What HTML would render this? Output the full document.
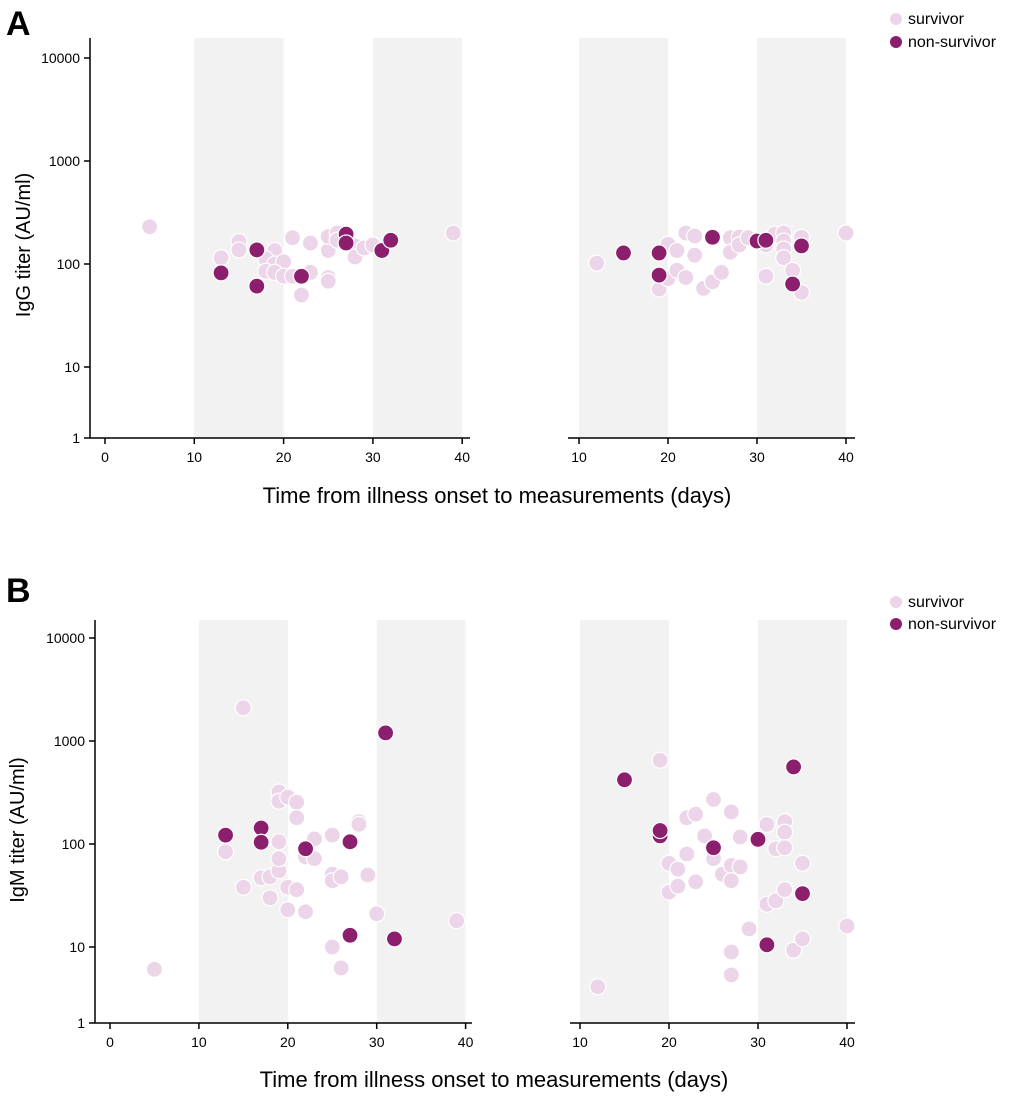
<!DOCTYPE html>
<html><head><meta charset="utf-8"><style>
body{margin:0;background:#fff}
svg{display:block;font-family:"Liberation Sans",Arial,sans-serif}
</style></head><body>
<svg id="fig" width="1020" height="1097" viewBox="0 0 1020 1097" xmlns="http://www.w3.org/2000/svg">
<text x="6" y="35" font-size="34" font-weight="bold">A</text>
<text x="6" y="602" font-size="34" font-weight="bold">B</text>
<text transform="translate(30,245) rotate(-90)" text-anchor="middle" font-size="20">IgG titer (AU/ml)</text>
<text transform="translate(24,830) rotate(-90)" text-anchor="middle" font-size="20">IgM titer (AU/ml)</text>
<text x="497" y="503" text-anchor="middle" font-size="22">Time from illness onset to measurements (days)</text>
<text x="494" y="1087" text-anchor="middle" font-size="22">Time from illness onset to measurements (days)</text>
<g>
<circle cx="896" cy="19" r="6" fill="#ecd5e8"/><text x="908" y="24" font-size="16">survivor</text>
<circle cx="896" cy="42" r="6" fill="#8b1f6e"/><text x="908" y="47" font-size="16">non-survivor</text>
</g>
<g>
<circle cx="896" cy="602" r="6" fill="#ecd5e8"/><text x="908" y="607" font-size="16">survivor</text>
<circle cx="896" cy="624" r="6" fill="#8b1f6e"/><text x="908" y="629" font-size="16">non-survivor</text>
</g>
</svg>
<script>
const yTicks=[1,10,100,1000,10000];
const aLeftSurvDays=[5,15,15,13,19,18,19,20,18,19,20,21,23,22,21,23,25,25,25,25,26,26,28,28,29,30,39];
const aLeftSurvVals=[230,165,137,115,135,112,100,105,85,83,76,76,83,50,180,160,74,68,135,185,200,170,150,117,143,153,200];
const aLeftNonDays=[17,13,17,22,27,27,31,32];
const aLeftNonVals=[137,82,61,76,195,160,135,170];
const aRightSurvDays=[12,19,20,20,21,21,22,22,23,23,24,25,26,27,27,28,28,29,31,31,32,33,33,33,33,34,35,35,40];
const aRightSurvVals=[102,57,155,72,135,87,74,200,187,122,58,67,83,180,130,183,153,180,76,153,195,200,167,140,115,87,182,53,200];
const aRightNonDays=[15,19,19,25,30,31,34,35];
const aRightNonVals=[128,128,78,182,167,170,64,150];
const bLeftSurvDays=[5,15,13,15,17,18,18,19,19,19,19,19,20,20,20,21,21,21,22,22,23,23,25,25,25,25,26,26,28,28,29,30,39];
const bLeftSurvVals=[5.1,2100,84,38,47,30,48,55,72,105,320,260,285,38,23,255,180,36,75,22,112,72,122,51,44,10,48,5.3,165,155,50,21,18];
const bLeftNonDays=[13,17,17,22,27,27,31,32];
const bLeftNonVals=[122,143,104,90,105,13,1200,12];
const bRightSurvDays=[12,19,20,20,21,21,22,22,23,23,24,25,25,26,27,27,27,27,27,28,28,29,31,31,32,32,33,33,33,33,34,35,35,40];
const bRightSurvVals=[3,650,65,34,57,39,80,180,195,43,120,270,72,51,205,62,44,8.6,4.3,117,60,15,155,26,90,28,165,130,92,36,9.1,65,12,16];
const bRightNonDays=[15,19,19,25,30,31,34,35];
const bRightNonVals=[420,120,135,92,111,10.5,560,33];

const NS='http://www.w3.org/2000/svg';
const svg=document.getElementById('fig');
function mk(tag,attrs,parent){const e=document.createElementNS(NS,tag);for(const k in attrs)e.setAttribute(k,attrs[k]);(parent||svg).appendChild(e);return e;}

function panel(cfg){
  const g=mk('g',{});
  
  
  const xs=d=>cfg.x0+(d-cfg.d0)*cfg.pxd;
  const ys=v=>{const l=Math.log10(v);return l>=1?cfg.y10-(l-1)*cfg.dec:cfg.y10+(1-l)*(cfg.y1-cfg.y10);};
  // bands
  cfg.bands.forEach(b=>{
    const r=mk('rect',{x:xs(b[0]),y:cfg.top,width:xs(b[1])-xs(b[0]),height:cfg.y1-cfg.top,fill:'#f2f2f2'},g);
    
    
  });
  // x axis
  const xa=mk('line',{x1:cfg.ax0,x2:cfg.ax1,y1:cfg.y1,y2:cfg.y1,stroke:'#000','stroke-width':1.5},g);
  
  
  cfg.xticks.forEach(t=>{
    mk('line',{x1:xs(t),x2:xs(t),y1:cfg.y1,y2:cfg.y1+6,stroke:'#000','stroke-width':1.5},g);
    const tl=mk('text',{x:xs(t),y:cfg.y1+24,'text-anchor':'middle','font-size':14},g);
    tl.textContent=t;
    
    
  });
  if(cfg.yaxis){
    const ya=mk('line',{x1:cfg.ax0,x2:cfg.ax0,y1:cfg.top,y2:cfg.y1,stroke:'#000','stroke-width':1.5},g);
    
    
    yTicks.forEach(t=>{
      mk('line',{x1:cfg.ax0-6,x2:cfg.ax0,y1:ys(t),y2:ys(t),stroke:'#000','stroke-width':1.5},g);
      const tl=mk('text',{x:cfg.ax0-10,y:ys(t)+5,'text-anchor':'end','font-size':14},g);
      tl.textContent=t;
      
      
    });
  }
  const draw=(days,vals,color,nm)=>{
    days.forEach((d,i)=>{
      const c=mk('circle',{cx:xs(d),cy:ys(vals[i]),r:8,fill:color,stroke:'#fff','stroke-width':1.2},g);
      
      
    });
  };
  draw(cfg.sd,cfg.sv,'#ecd5e8','survivor-point');
  draw(cfg.nd,cfg.nv,'#8b1f6e','non-survivor-point');
}
panel({name:'panel-a-left',x0:105,d0:0,pxd:8.93,y10:367,dec:103,y1:438,top:38,ax0:90,ax1:470,yaxis:true,
  xticks:[0,10,20,30,40],bands:[[10,20],[30,40]],sd:aLeftSurvDays,sv:aLeftSurvVals,nd:aLeftNonDays,nv:aLeftNonVals});
panel({name:'panel-a-right',x0:579,d0:10,pxd:8.9,y10:367,dec:103,y1:438,top:38,ax0:568,ax1:855,yaxis:false,
  xticks:[10,20,30,40],bands:[[10,20],[30,40]],sd:aRightSurvDays,sv:aRightSurvVals,nd:aRightNonDays,nv:aRightNonVals});
panel({name:'panel-b-left',x0:110,d0:0,pxd:8.89,y10:947,dec:103,y1:1023,top:620,ax0:95,ax1:472,yaxis:true,
  xticks:[0,10,20,30,40],bands:[[10,20],[30,40]],sd:bLeftSurvDays,sv:bLeftSurvVals,nd:bLeftNonDays,nv:bLeftNonVals});
panel({name:'panel-b-right',x0:580,d0:10,pxd:8.9,y10:947,dec:103,y1:1023,top:620,ax0:570,ax1:855,yaxis:false,
  xticks:[10,20,30,40],bands:[[10,20],[30,40]],sd:bRightSurvDays,sv:bRightSurvVals,nd:bRightNonDays,nv:bRightNonVals});
</script>
</body></html>
